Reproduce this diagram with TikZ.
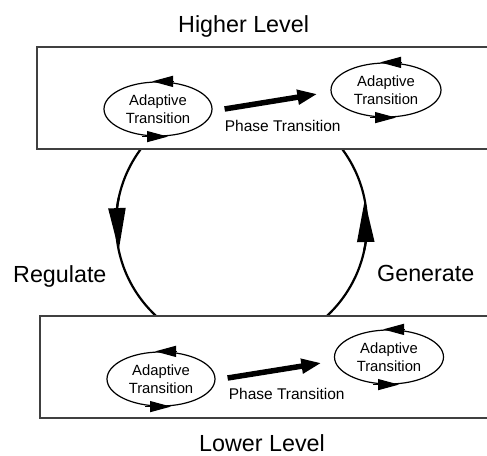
\documentclass[tikz,border=0pt]{standalone}
\usepackage{fontspec}
\setmainfont{Liberation Sans}
\usepackage{tikz}
\usetikzlibrary{arrows.meta,calc,positioning,shapes.geometric,bending}

\begin{document}
\begin{tikzpicture}[x=1pt, y=1pt,
  box/.style={draw=black!75, fill=white, line width=1.4pt, minimum height=102pt, inner sep=0pt},
  adapt/.style={draw, ellipse, line width=1.2pt, minimum width=108pt, minimum height=54pt,
    inner sep=0pt, align=center, font=\fontsize{14.8}{18}\selectfont},
  big/.style={inner sep=0pt, anchor=base west, font=\fontsize{23.3}{27}\selectfont},
  small/.style={inner sep=0pt, anchor=base west, font=\fontsize{15.5}{18}\selectfont},
  cyc/.style={line width=1.2pt, -{Triangle[length=21pt,width=11pt]}},
  phase/.style={line width=5.5pt, -{Triangle[length=20pt,width=14pt]}},
  ringarrow/.style={line width=2.2pt, -{Triangle[length=42pt,width=17pt]}}
]

% 画布与裁剪
\useasboundingbox (0,0) rectangle (487,455);
\clip (0,0) rectangle (487,455);

% 大圆与两个方向箭头
\def\R{125.5}
\coordinate (O) at (241.5,231);
\draw[line width=2.2pt] (O) circle (\R);
\draw[ringarrow] ([shift={(168:\R)}]O) arc (168:192:\R);
\draw[ringarrow] ([shift={(-12:\R)}]O) arc (-12:11:\R);

% 上下两层框(右边超出画面)
\node[box, minimum width=458pt] (hi) at (266,357) {};
\node[box, minimum width=455pt] (lo) at (267.5,88) {};

% 大标签
\node[big] (hiT) at (178,422) {Higher Level};
\node[big] (loT) at (199,4) {Lower Level};
\node[big] (reg) at (13,172) {Regulate};
\node[big] (gen) at (377,173) {Generate};

% 椭圆
\node[adapt] (hiA) at (158,346) {Adaptive\\Transition};
\node[adapt, minimum width=110pt] (hiB) at (386,365) {Adaptive\\Transition};
\node[adapt] (loA) at (161,76) {Adaptive\\Transition};
\node[adapt, minimum width=109pt] (loB) at (389,98) {Adaptive\\Transition};

% 椭圆上的小箭头
\foreach \e in {hiA,hiB,loA,loB}{
  \draw[cyc] ($(\e.north)+(15,0)$) -- ($(\e.north)+(-6,0)$);
  \draw[cyc] ($(\e.south)+(-16,0)$) -- ($(\e.south)+(10,0)$);
}

% 相变箭头
\coordinate (hiS) at ($(hiA.east)+(12,0)$);
\coordinate (loS) at ($(loA.east)+(12,1)$);
\draw[phase] (hiS) -- ($(hiB.west)+(-13,-4)$);
\draw[phase] (loS) -- ($(loB.west)+(-12.5,-6)$);
\node[small] (hiP) at ($(hiS)+(0,-23)$) {Phase Transition};
\node[small] (loP) at ($(loS)+(1,-22)$) {Phase Transition};

\end{tikzpicture}
\end{document}
